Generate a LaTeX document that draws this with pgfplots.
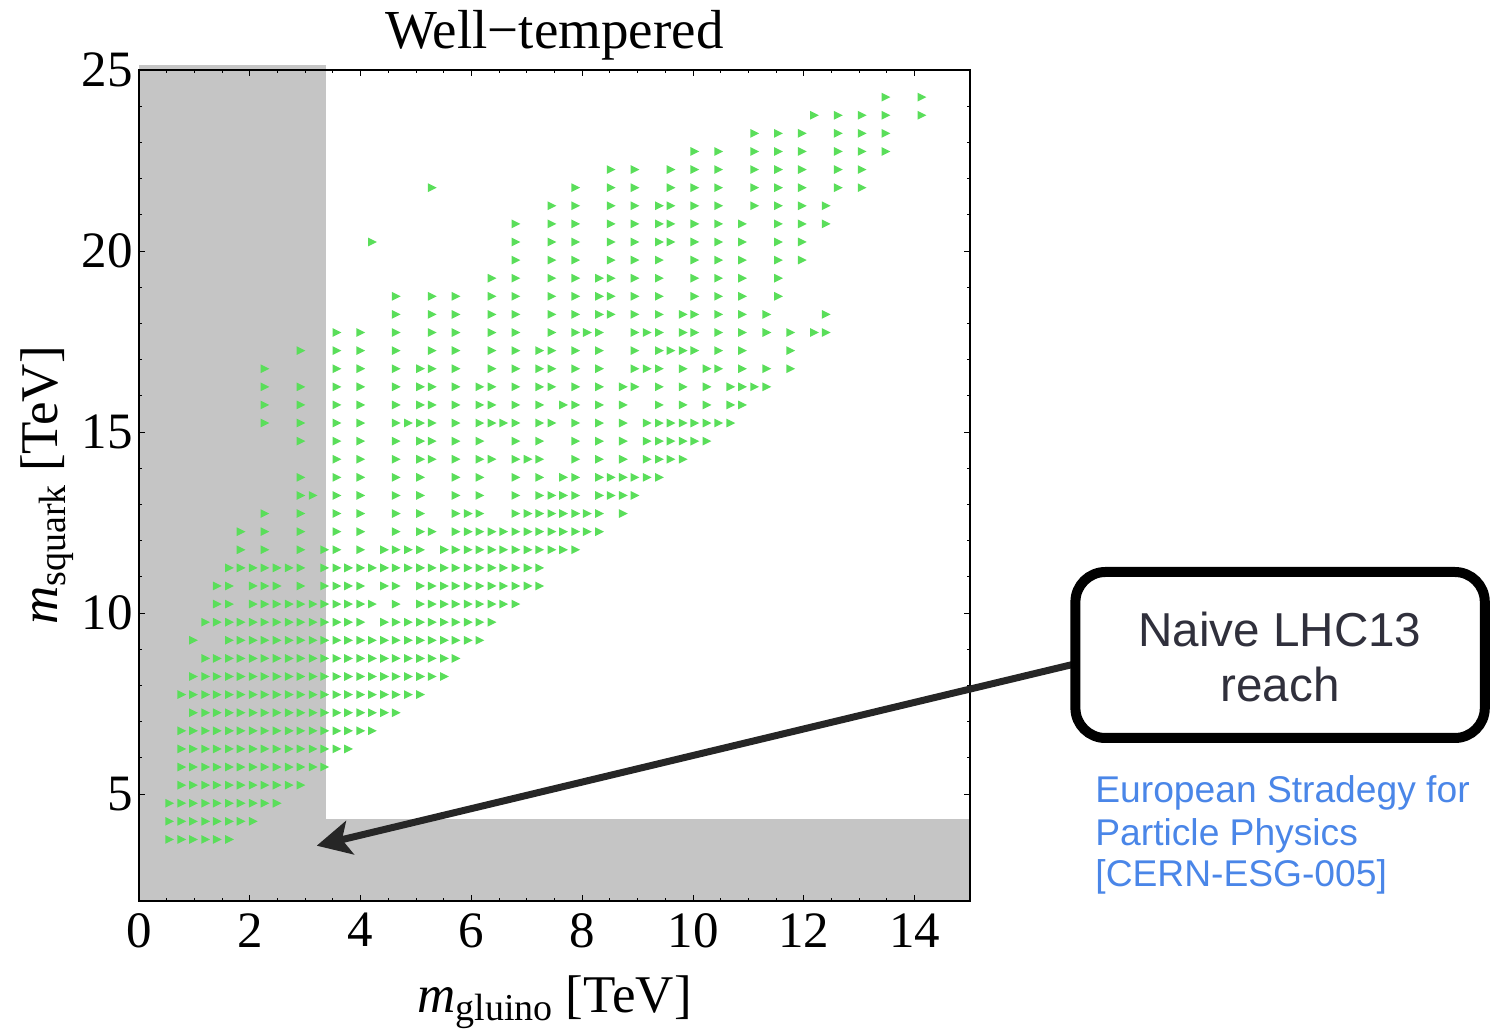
\documentclass[border=0pt]{standalone}
\usepackage{pgfplots}
\pgfplotsset{compat=1.18}
\usepackage{fontspec}
\setmainfont{Liberation Serif}
\newfontfamily\arial{Liberation Sans}
\usetikzlibrary{arrows.meta}
\definecolor{mkgreen}{RGB}{90,222,90}
\definecolor{regiongray}{RGB}{115,115,115}
\definecolor{boxtext}{RGB}{48,48,60}
\definecolor{esgblue}{RGB}{74,134,232}
\pgfdeclareplotmark{rtri}{%
  \pgfpathmoveto{\pgfqpoint{2.3pt}{0pt}}%
  \pgfpathlineto{\pgfqpoint{-2.1pt}{2.2pt}}%
  \pgfpathlineto{\pgfqpoint{-2.1pt}{-2.2pt}}%
  \pgfpathclose\pgfusepathqfill}
\begin{document}
\begin{tikzpicture}
\begin{axis}[
  scale only axis, width=415.5pt, height=415.5pt,
  xmin=0, xmax=15, ymin=2.05, ymax=25,
  axis on top, clip=false,
  xtick={0,2,4,6,8,10,12,14}, ytick={5,10,15,20,25},
  minor x tick num=3, minor y tick num=4,
  tick align=inside,
  major tick length=3pt, minor tick length=1.7pt,
  every tick/.style={black, line width=0.5pt},
  axis line style={black, line width=0.6pt},
  /pgf/number format/assume math mode=true,
  tick label style={font=\fontsize{25.5}{28}\selectfont},
  xticklabel style={inner sep=0pt, anchor=north, yshift=-6pt},
  yticklabel style={inner sep=0pt, anchor=east, xshift=-3pt},
  title={Well−tempered},
  title style={at={(0.5,1)}, anchor=base, yshift=4.5pt, font=\fontsize{27.5}{30}\selectfont},
  xlabel={\textit{m}\raisebox{-4pt}{\fontsize{19}{20}\selectfont gluino} [TeV]},
  xlabel style={at={(axis description cs:0.5,-0.1336)}, anchor=base, font=\fontsize{26.5}{30}\selectfont},
  ylabel={\textit{m}\raisebox{-4pt}{\fontsize{19}{20}\selectfont squark} [TeV]},
  ylabel style={at={(axis description cs:-0.0975,0.5)}, anchor=base, font=\fontsize{26.5}{30}\selectfont},
]
\addplot[only marks, mark=rtri, color=mkgreen] coordinates {
(0.55,3.75)(0.77,3.75)(0.98,3.75)(1.20,3.75)(1.41,3.75)(1.63,3.75)
(0.55,4.25)(0.77,4.25)(0.98,4.25)(1.20,4.25)(1.41,4.25)(1.63,4.25)(1.84,4.25)(2.06,4.25)
(0.55,4.75)(0.77,4.75)(0.98,4.75)(1.20,4.75)(1.41,4.75)(1.63,4.75)(1.84,4.75)(2.06,4.75)(2.27,4.75)(2.49,4.75)
(0.77,5.25)(0.98,5.25)(1.20,5.25)(1.41,5.25)(1.63,5.25)(1.84,5.25)(2.06,5.25)(2.27,5.25)(2.49,5.25)(2.71,5.25)(2.92,5.25)
(0.77,5.75)(0.98,5.75)(1.20,5.75)(1.41,5.75)(1.63,5.75)(1.84,5.75)(2.06,5.75)(2.27,5.75)(2.49,5.75)(2.71,5.75)(2.92,5.75)(3.14,5.75)(3.35,5.75)
(0.77,6.25)(0.98,6.25)(1.20,6.25)(1.41,6.25)(1.63,6.25)(1.84,6.25)(2.06,6.25)(2.27,6.25)(2.49,6.25)(2.71,6.25)(2.92,6.25)(3.14,6.25)(3.35,6.25)(3.57,6.25)(3.78,6.25)
(0.77,6.75)(0.98,6.75)(1.20,6.75)(1.41,6.75)(1.63,6.75)(1.84,6.75)(2.06,6.75)(2.27,6.75)(2.49,6.75)(2.71,6.75)(2.92,6.75)(3.14,6.75)(3.35,6.75)(3.57,6.75)(3.78,6.75)(4.00,6.75)(4.21,6.75)
(0.98,7.25)(1.20,7.25)(1.41,7.25)(1.63,7.25)(1.84,7.25)(2.06,7.25)(2.27,7.25)(2.49,7.25)(2.71,7.25)(2.92,7.25)(3.14,7.25)(3.35,7.25)(3.57,7.25)(3.78,7.25)(4.00,7.25)(4.21,7.25)(4.43,7.25)(4.64,7.25)
(0.77,7.75)(0.98,7.75)(1.20,7.75)(1.41,7.75)(1.63,7.75)(1.84,7.75)(2.06,7.75)(2.27,7.75)(2.49,7.75)(2.71,7.75)(2.92,7.75)(3.14,7.75)(3.35,7.75)(3.57,7.75)(3.78,7.75)(4.00,7.75)(4.21,7.75)(4.43,7.75)(4.64,7.75)(4.86,7.75)(5.08,7.75)
(0.98,8.25)(1.20,8.25)(1.41,8.25)(1.63,8.25)(1.84,8.25)(2.06,8.25)(2.27,8.25)(2.49,8.25)(2.71,8.25)(2.92,8.25)(3.14,8.25)(3.35,8.25)(3.57,8.25)(3.78,8.25)(4.00,8.25)(4.21,8.25)(4.43,8.25)(4.64,8.25)(4.86,8.25)(5.08,8.25)(5.29,8.25)(5.51,8.25)
(1.20,8.75)(1.41,8.75)(1.63,8.75)(1.84,8.75)(2.06,8.75)(2.27,8.75)(2.49,8.75)(2.71,8.75)(2.92,8.75)(3.14,8.75)(3.35,8.75)(3.57,8.75)(3.78,8.75)(4.00,8.75)(4.21,8.75)(4.43,8.75)(4.64,8.75)(4.86,8.75)(5.08,8.75)(5.29,8.75)(5.51,8.75)(5.72,8.75)
(0.98,9.25)(1.63,9.25)(1.84,9.25)(2.06,9.25)(2.27,9.25)(2.49,9.25)(2.71,9.25)(2.92,9.25)(3.14,9.25)(3.35,9.25)(3.57,9.25)(3.78,9.25)(4.00,9.25)(4.21,9.25)(4.43,9.25)(4.64,9.25)(4.86,9.25)(5.08,9.25)(5.29,9.25)(5.51,9.25)(5.72,9.25)(5.94,9.25)(6.15,9.25)
(1.20,9.75)(1.41,9.75)(1.63,9.75)(1.84,9.75)(2.06,9.75)(2.27,9.75)(2.49,9.75)(2.71,9.75)(2.92,9.75)(3.14,9.75)(3.35,9.75)(3.57,9.75)(3.78,9.75)(4.00,9.75)(4.43,9.75)(4.64,9.75)(4.86,9.75)(5.08,9.75)(5.29,9.75)(5.51,9.75)(5.72,9.75)(5.94,9.75)(6.15,9.75)(6.37,9.75)
(1.41,10.25)(1.63,10.25)(2.06,10.25)(2.27,10.25)(2.49,10.25)(2.71,10.25)(2.92,10.25)(3.14,10.25)(3.35,10.25)(3.57,10.25)(3.78,10.25)(4.00,10.25)(4.21,10.25)(4.64,10.25)(5.08,10.25)(5.29,10.25)(5.51,10.25)(5.72,10.25)(5.94,10.25)(6.15,10.25)(6.37,10.25)(6.58,10.25)(6.80,10.25)
(1.41,10.75)(1.63,10.75)(2.06,10.75)(2.27,10.75)(2.49,10.75)(2.92,10.75)(3.35,10.75)(3.57,10.75)(3.78,10.75)(4.00,10.75)(4.43,10.75)(4.64,10.75)(5.08,10.75)(5.29,10.75)(5.51,10.75)(5.72,10.75)(5.94,10.75)(6.15,10.75)(6.37,10.75)(6.58,10.75)(6.80,10.75)(7.02,10.75)(7.23,10.75)
(1.63,11.25)(1.84,11.25)(2.06,11.25)(2.27,11.25)(2.49,11.25)(2.71,11.25)(2.92,11.25)(3.35,11.25)(3.57,11.25)(3.78,11.25)(4.00,11.25)(4.21,11.25)(4.43,11.25)(4.64,11.25)(4.86,11.25)(5.08,11.25)(5.29,11.25)(5.51,11.25)(5.72,11.25)(5.94,11.25)(6.15,11.25)(6.37,11.25)(6.58,11.25)(6.80,11.25)(7.02,11.25)(7.23,11.25)
(1.84,11.75)(2.27,11.75)(2.92,11.75)(3.35,11.75)(3.57,11.75)(4.00,11.75)(4.43,11.75)(4.64,11.75)(4.86,11.75)(5.08,11.75)(5.51,11.75)(5.72,11.75)(5.94,11.75)(6.15,11.75)(6.37,11.75)(6.58,11.75)(6.80,11.75)(7.02,11.75)(7.23,11.75)(7.45,11.75)(7.66,11.75)(7.88,11.75)
(1.84,12.25)(2.27,12.25)(2.92,12.25)(3.57,12.25)(4.00,12.25)(4.64,12.25)(5.08,12.25)(5.29,12.25)(5.72,12.25)(5.94,12.25)(6.15,12.25)(6.37,12.25)(6.58,12.25)(6.80,12.25)(7.02,12.25)(7.23,12.25)(7.45,12.25)(7.66,12.25)(7.88,12.25)(8.09,12.25)(8.31,12.25)
(2.27,12.75)(2.92,12.75)(3.57,12.75)(4.00,12.75)(4.64,12.75)(5.08,12.75)(5.72,12.75)(5.94,12.75)(6.15,12.75)(6.80,12.75)(7.02,12.75)(7.23,12.75)(7.45,12.75)(7.66,12.75)(7.88,12.75)(8.09,12.75)(8.31,12.75)(8.74,12.75)
(2.92,13.25)(3.14,13.25)(3.57,13.25)(4.00,13.25)(4.64,13.25)(5.08,13.25)(5.72,13.25)(6.15,13.25)(6.80,13.25)(7.23,13.25)(7.45,13.25)(7.66,13.25)(7.88,13.25)(8.31,13.25)(8.52,13.25)(8.74,13.25)(8.95,13.25)
(2.92,13.75)(3.57,13.75)(4.00,13.75)(4.64,13.75)(5.08,13.75)(5.72,13.75)(6.15,13.75)(6.80,13.75)(7.23,13.75)(7.66,13.75)(7.88,13.75)(8.31,13.75)(8.52,13.75)(8.74,13.75)(8.95,13.75)(9.17,13.75)(9.39,13.75)
(3.57,14.25)(4.00,14.25)(4.64,14.25)(5.08,14.25)(5.29,14.25)(5.72,14.25)(6.15,14.25)(6.37,14.25)(6.80,14.25)(7.02,14.25)(7.23,14.25)(7.88,14.25)(8.31,14.25)(8.74,14.25)(9.17,14.25)(9.39,14.25)(9.60,14.25)(9.82,14.25)
(2.92,14.75)(3.57,14.75)(4.00,14.75)(4.64,14.75)(5.08,14.75)(5.29,14.75)(5.72,14.75)(6.15,14.75)(6.80,14.75)(7.23,14.75)(7.88,14.75)(8.31,14.75)(8.74,14.75)(9.17,14.75)(9.39,14.75)(9.60,14.75)(9.82,14.75)(10.03,14.75)(10.25,14.75)
(2.27,15.25)(2.92,15.25)(3.57,15.25)(4.00,15.25)(4.64,15.25)(4.86,15.25)(5.08,15.25)(5.29,15.25)(5.72,15.25)(6.15,15.25)(6.37,15.25)(6.58,15.25)(6.80,15.25)(7.23,15.25)(7.45,15.25)(7.88,15.25)(8.31,15.25)(8.74,15.25)(9.17,15.25)(9.39,15.25)(9.60,15.25)(9.82,15.25)(10.03,15.25)(10.25,15.25)(10.46,15.25)(10.68,15.25)
(2.27,15.75)(2.92,15.75)(3.57,15.75)(4.00,15.75)(4.64,15.75)(5.08,15.75)(5.29,15.75)(5.72,15.75)(6.15,15.75)(6.37,15.75)(6.80,15.75)(7.23,15.75)(7.66,15.75)(7.88,15.75)(8.31,15.75)(8.74,15.75)(9.39,15.75)(9.82,15.75)(10.25,15.75)(10.68,15.75)(10.89,15.75)
(2.27,16.25)(2.92,16.25)(3.57,16.25)(4.00,16.25)(4.64,16.25)(5.08,16.25)(5.29,16.25)(5.72,16.25)(6.15,16.25)(6.37,16.25)(6.80,16.25)(7.23,16.25)(7.45,16.25)(7.88,16.25)(8.31,16.25)(8.74,16.25)(8.95,16.25)(9.39,16.25)(9.82,16.25)(10.25,16.25)(10.68,16.25)(10.89,16.25)(11.11,16.25)(11.33,16.25)
(2.27,16.75)(3.57,16.75)(4.00,16.75)(4.64,16.75)(5.08,16.75)(5.29,16.75)(5.72,16.75)(6.37,16.75)(6.80,16.75)(7.23,16.75)(7.45,16.75)(7.88,16.75)(8.31,16.75)(8.95,16.75)(9.17,16.75)(9.39,16.75)(9.82,16.75)(10.25,16.75)(10.46,16.75)(10.89,16.75)(11.33,16.75)(11.76,16.75)
(2.92,17.25)(3.57,17.25)(4.00,17.25)(4.64,17.25)(5.29,17.25)(5.72,17.25)(6.37,17.25)(6.80,17.25)(7.23,17.25)(7.45,17.25)(7.88,17.25)(8.31,17.25)(8.95,17.25)(9.39,17.25)(9.60,17.25)(9.82,17.25)(10.03,17.25)(10.46,17.25)(10.89,17.25)(11.76,17.25)
(3.57,17.75)(4.00,17.75)(4.64,17.75)(5.29,17.75)(5.72,17.75)(6.37,17.75)(6.80,17.75)(7.45,17.75)(7.88,17.75)(8.09,17.75)(8.31,17.75)(8.95,17.75)(9.17,17.75)(9.39,17.75)(9.82,17.75)(10.03,17.75)(10.46,17.75)(10.89,17.75)(11.33,17.75)(11.76,17.75)(12.19,17.75)(12.40,17.75)
(4.64,18.25)(5.29,18.25)(5.72,18.25)(6.37,18.25)(6.80,18.25)(7.45,18.25)(7.88,18.25)(8.31,18.25)(8.52,18.25)(8.95,18.25)(9.39,18.25)(9.82,18.25)(10.03,18.25)(10.46,18.25)(10.89,18.25)(11.33,18.25)(12.40,18.25)
(4.64,18.75)(5.29,18.75)(5.72,18.75)(6.37,18.75)(6.80,18.75)(7.45,18.75)(7.88,18.75)(8.31,18.75)(8.52,18.75)(8.95,18.75)(9.39,18.75)(10.03,18.75)(10.46,18.75)(10.89,18.75)(11.54,18.75)
(6.37,19.25)(6.80,19.25)(7.45,19.25)(7.88,19.25)(8.31,19.25)(8.52,19.25)(8.95,19.25)(9.39,19.25)(10.03,19.25)(10.46,19.25)(10.89,19.25)(11.54,19.25)
(6.80,19.75)(7.45,19.75)(7.88,19.75)(8.52,19.75)(8.95,19.75)(9.39,19.75)(10.03,19.75)(10.46,19.75)(10.89,19.75)(11.54,19.75)(11.97,19.75)
(4.21,20.25)(6.80,20.25)(7.45,20.25)(7.88,20.25)(8.52,20.25)(8.95,20.25)(9.39,20.25)(9.60,20.25)(10.03,20.25)(10.46,20.25)(10.89,20.25)(11.54,20.25)(11.97,20.25)
(6.80,20.75)(7.45,20.75)(7.88,20.75)(8.52,20.75)(8.95,20.75)(9.39,20.75)(9.60,20.75)(10.03,20.75)(10.46,20.75)(10.89,20.75)(11.54,20.75)(11.97,20.75)(12.40,20.75)
(7.45,21.25)(7.88,21.25)(8.52,21.25)(8.95,21.25)(9.39,21.25)(9.60,21.25)(10.03,21.25)(10.46,21.25)(11.11,21.25)(11.54,21.25)(11.97,21.25)(12.40,21.25)
(5.29,21.75)(7.88,21.75)(8.52,21.75)(8.95,21.75)(9.60,21.75)(10.03,21.75)(10.46,21.75)(11.11,21.75)(11.54,21.75)(11.97,21.75)(12.62,21.75)(13.05,21.75)
(8.52,22.25)(8.95,22.25)(9.60,22.25)(10.03,22.25)(10.46,22.25)(11.11,22.25)(11.54,22.25)(11.97,22.25)(12.62,22.25)(13.05,22.25)
(10.03,22.75)(10.46,22.75)(11.11,22.75)(11.54,22.75)(11.97,22.75)(12.62,22.75)(13.05,22.75)(13.48,22.75)
(11.11,23.25)(11.54,23.25)(11.97,23.25)(12.62,23.25)(13.05,23.25)(13.48,23.25)
(12.19,23.75)(12.62,23.75)(13.05,23.75)(13.48,23.75)(14.13,23.75)
(13.48,24.25)(14.13,24.25)
};
\fill[regiongray, opacity=0.41] (axis cs:0,2.05) rectangle (axis cs:3.375,25.14);
\fill[regiongray, opacity=0.41] (axis cs:3.375,2.05) rectangle (axis cs:15,4.31);
\end{axis}
\draw[line width=3.5pt, black!85, -{Stealth[length=17pt, width=17pt, inset=4pt]}] (472pt,119.5pt) -- (88.85pt,27.65pt);
\draw[line width=5pt, rounded corners=15pt, fill=white] (468.2pt,81.5pt) rectangle (672.9pt,164.5pt);
\node[anchor=base, inner sep=0pt, font=\arial\fontsize{23.8}{27}\selectfont, text=boxtext] at (570.5pt,127pt) {Naive LHC13};
\node[anchor=base, inner sep=0pt, font=\arial\fontsize{23.8}{27}\selectfont, text=boxtext] at (570.5pt,99.5pt) {reach};
\node[anchor=base west, inner sep=0pt, font=\arial\fontsize{18.6}{21}\selectfont, text=esgblue] at (478pt,49.15pt) {European Stradegy for};
\node[anchor=base west, inner sep=0pt, font=\arial\fontsize{18.6}{21}\selectfont, text=esgblue] at (478pt,27.5pt) {Particle Physics};
\node[anchor=base west, inner sep=0pt, font=\arial\fontsize{18.6}{21}\selectfont, text=esgblue] at (478pt,7.15pt) {[CERN-ESG-005]};
\pgfresetboundingbox
\path[use as bounding box] (-69.5pt,-63.5pt) rectangle (677pt,450.5pt);
\end{tikzpicture}
\end{document}
